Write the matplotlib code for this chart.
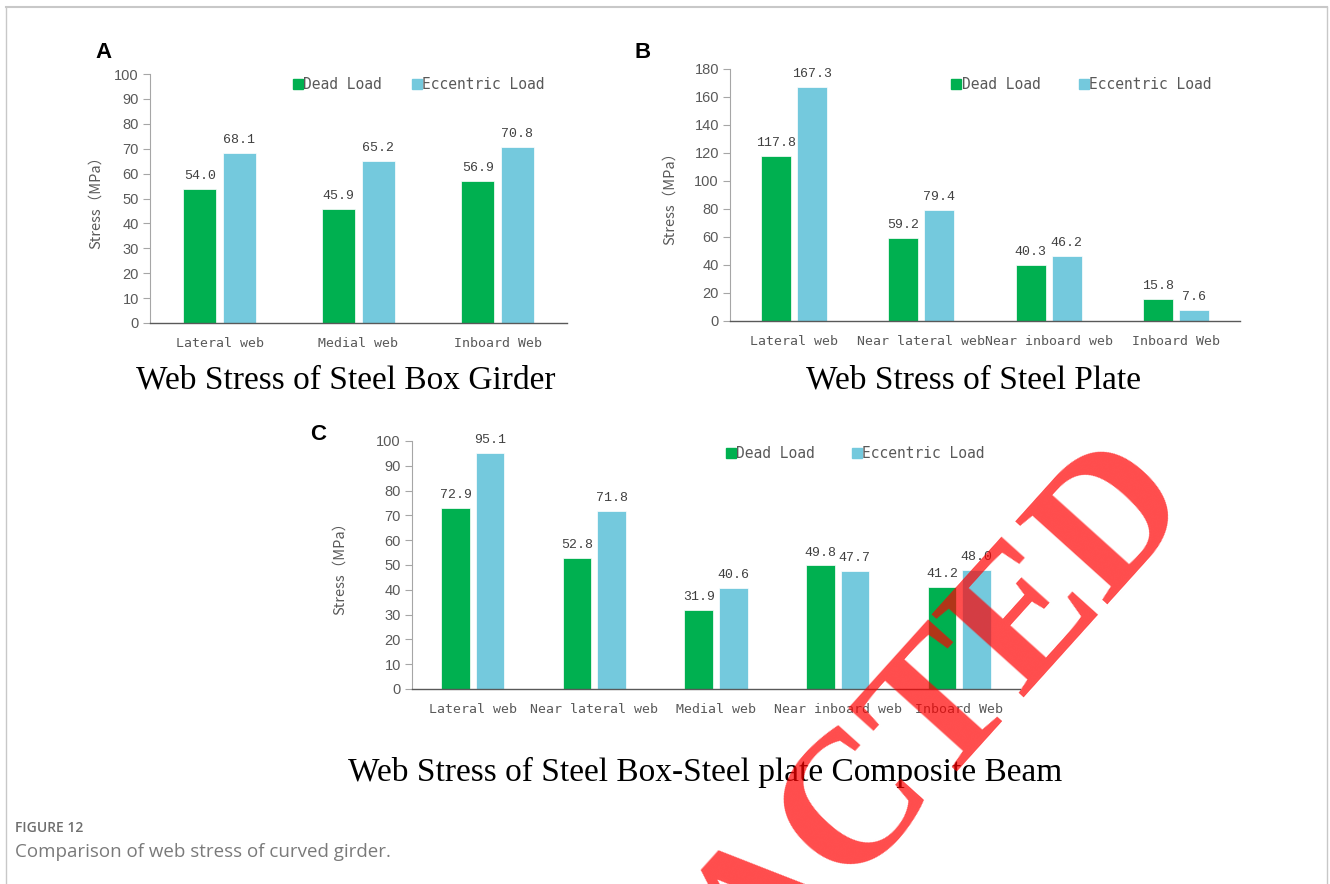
import matplotlib
matplotlib.use("Agg")
import matplotlib.pyplot as plt
from matplotlib.lines import Line2D
import numpy as np

# ---------------- data ----------------
series_names = ["Dead Load", "Eccentric Load"]

cats_a = ["Lateral web", "Medial web", "Inboard Web"]
dead_a = [54.0, 45.9, 56.9]
ecc_a = [68.1, 65.2, 70.8]

cats_b = ["Lateral web", "Near lateral web", "Near inboard web", "Inboard Web"]
dead_b = [117.8, 59.2, 40.3, 15.8]
ecc_b = [167.3, 79.4, 46.2, 7.6]

cats_c = ["Lateral web", "Near lateral web", "Medial web", "Near inboard web", "Inboard Web"]
dead_c = [72.9, 52.8, 31.9, 49.8, 41.2]
ecc_c = [95.1, 71.8, 40.6, 47.7, 48.0]

titles = ["Web Stress of Steel Box Girder",
          "Web Stress of Steel Plate",
          "Web Stress of Steel Box-Steel plate Composite Beam"]
ylabel = "Stress\uff08MPa\uff09"

GREEN = "#00B050"
CYAN = "#74C9DD"
GRAY = "#595959"

W, H = 1330, 884
fig = plt.figure(figsize=(W / 100, H / 100), dpi=100)
fig.patch.set_facecolor("white")


def px_axes(left, right, bottom, top):
    return fig.add_axes([left / W, 1 - bottom / H, (right - left) / W, (bottom - top) / H])


def draw_panel(ax, cats, dead, ecc, ymax, ystep, ylab_off, leg_x, leg_y, colsp):
    x = np.arange(len(cats))
    w = 0.235
    off = 0.142
    b1 = ax.bar(x - off, dead, w, color=GREEN, edgecolor="white", linewidth=0.5, label=series_names[0])
    b2 = ax.bar(x + off, ecc, w, color=CYAN, edgecolor="white", linewidth=0.5, label=series_names[1])
    for bars, vals in ((b1, dead), (b2, ecc)):
        ax.bar_label(bars, labels=[f"{v:.1f}" for v in vals], padding=5,
                     fontsize=9.5, family="Liberation Mono", color="#404040")
    ax.set_xlim(-0.5, len(cats) - 0.5)
    ax.set_ylim(0, ymax)
    ax.set_yticks(np.arange(0, ymax + 0.1, ystep))
    ax.set_xticks(x)
    ax.set_xticklabels(cats, family="DejaVu Sans Mono", fontsize=9.5, color=GRAY)
    for lab in ax.get_yticklabels():
        lab.set_family("Liberation Sans")
        lab.set_fontsize(10.5)
        lab.set_color(GRAY)
    ax.tick_params(axis="x", length=0, pad=10)
    ax.tick_params(axis="y", length=5, width=0.8, color="#A6A6A6", pad=3)
    for s in ("top", "right"):
        ax.spines[s].set_visible(False)
    ax.spines["left"].set_color("#A6A6A6")
    ax.spines["left"].set_linewidth(0.8)
    ax.spines["bottom"].set_color("#595959")
    ax.spines["bottom"].set_linewidth(1.0)
    ax.set_ylabel(ylabel, family=["Noto Sans CJK SC", "DejaVu Sans"], fontsize=10.5, color=GRAY)
    ax.yaxis.set_label_coords(ylab_off, 0.5)
    handles = [Line2D([], [], marker="s", linestyle="none", markersize=7, color=GREEN),
               Line2D([], [], marker="s", linestyle="none", markersize=7, color=CYAN)]
    leg = ax.legend(handles, series_names, ncol=2, loc="center", bbox_to_anchor=(leg_x, leg_y),
                    frameon=False, handlelength=0.6, handletextpad=0.05, columnspacing=colsp,
                    prop={"family": "DejaVu Sans Mono", "size": 10.5}, borderaxespad=0)
    for t in leg.get_texts():
        t.set_color(GRAY)


ax_a = px_axes(150, 567, 323, 74)
draw_panel(ax_a, cats_a, dead_a, ecc_a, 100, 10, -47 / 417, 0.645, 0.956, 2.1)

ax_b = px_axes(730, 1240, 321, 69)
draw_panel(ax_b, cats_b, dead_b, ecc_b, 180, 20, -53 / 510, 0.69, 0.94, 2.7)

ax_c = px_axes(412, 1020, 689, 441)
draw_panel(ax_c, cats_c, dead_c, ecc_c, 100, 10, -65 / 608, 0.73, 0.95, 2.6)

# panel letters
for letter, (px, py) in zip("ABC", [(103, 52), (643, 52), (318, 435)]):
    fig.text(px / W, 1 - py / H, letter, fontsize=16, fontweight="bold",
             family="Liberation Sans", ha="center", va="center")

# panel titles
for t, (px, py) in zip(titles, [(346, 380), (973, 380), (705, 772)]):
    fig.text(px / W, 1 - py / H, t, fontsize=24, family="Liberation Serif",
             ha="center", va="center", color="black")

# caption
fig.text(15 / W, 1 - 828 / H, "FIGURE 12", fontsize=10, family="Open Sans",
         fontweight="semibold", color="#6E6E6E", ha="left", va="center")
fig.text(15 / W, 1 - 852 / H, "Comparison of web stress of curved girder.", fontsize=13.5,
         family="Open Sans", color="#7A7A7A", ha="left", va="center")

# frame
fig.add_artist(Line2D([6 / W, 1327 / W], [1 - 7 / H, 1 - 7 / H], color="#C8C8C8", lw=1.5))
fig.add_artist(Line2D([6 / W, 6 / W], [0, 1 - 7 / H], color="#C8C8C8", lw=1.0))
fig.add_artist(Line2D([1327 / W, 1327 / W], [0, 1 - 7 / H], color="#C8C8C8", lw=1.0))

# watermark (partly outside the page, as in the reference)
fig.text(768 / W, 1 - 910 / H, "RETRACTED", fontsize=135, fontweight="bold",
         family="Liberation Serif", color="red", alpha=0.7, rotation=48,
         rotation_mode="anchor", ha="center", va="center", zorder=10)

fig.savefig("out.png", dpi=100)
